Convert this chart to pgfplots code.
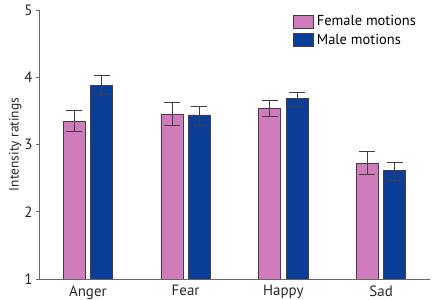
\documentclass[border=0pt]{standalone}
\usepackage{pgfplots}
\pgfplotsset{compat=1.18}
\usepackage{pgfplotstable}
\usepackage{fontspec}
\setmainfont{PT Sans}
\definecolor{fem}{RGB}{208,124,188}
\definecolor{mal}{RGB}{10,62,152}
\definecolor{edge}{RGB}{70,60,70}
\pgfplotstableread{
x y ep em
0 3.34 0.16 0.15
1 3.45 0.17 0.16
2 3.54 0.12 0.12
3 2.72 0.17 0.17
}\female
\pgfplotstableread{
x y ep em
0 3.88 0.15 0.14
1 3.44 0.12 0.15
2 3.68 0.09 0.12
3 2.62 0.12 0.16
}\male
\begin{document}
\begin{tikzpicture}[x=1bp,y=1bp]
\begin{axis}[
  at={(0,0)}, anchor=south west,
  scale only axis,
  width=391bp, height=269bp,
  xmin=-0.5, xmax=3.5,
  ymin=1, ymax=5,
  axis lines=left,
  axis line style={-, draw=black!60, line width=0.8pt},
  xtick={0,1,2,3},
  xticklabels={Anger,Fear,Happy,Sad},
  xtick style={draw=none},
  ytick={1,2,3,4,5},
  tick align=outside,
  ytick style={draw=black!60, line width=0.8pt},
  major tick length=3bp,
  tick label style={font=\fontsize{15}{17}\selectfont, text=black!85},
  /pgf/number format/assume math mode=true,
  ylabel={Intensity ratings},
  ylabel style={font=\fontsize{13.5}{15}\selectfont, text=black!85, yshift=-4bp},
  xticklabel style={yshift=0bp},
  ybar,
  bar width=0.225,
  legend style={draw=none, fill=none, at={(0.642,0.995)}, anchor=north west,
    font=\fontsize{14.5}{16}\selectfont, row sep=3bp,
    legend cell align=left,
    /tikz/every even column/.append style={column sep=2bp}},
  legend image code/.code={\draw[#1] (0bp,-6.5bp) rectangle (20bp,6.5bp);},
]
\addplot[fill=fem, draw=edge, line width=0.7pt, bar shift=-0.14,
  error bars/.cd, y dir=both, y explicit,
  error bar style={line width=0.8pt, draw=black!75},
  error mark options={rotate=90, mark size=8bp, line width=0.8pt, draw=black!75}]
  table[x=x, y=y, y error plus=ep, y error minus=em]{\female};
\addlegendentry{\hspace{1bp}Female motions}
\addplot[fill=mal, draw=edge, line width=0.7pt, bar shift=0.14,
  error bars/.cd, y dir=both, y explicit,
  error bar style={line width=0.8pt, draw=black!75},
  error mark options={rotate=90, mark size=8bp, line width=0.8pt, draw=black!75}]
  table[x=x, y=y, y error plus=ep, y error minus=em]{\male};
\addlegendentry{\hspace{1bp}Male motions}
\end{axis}
\pgfresetboundingbox
\path[use as bounding box] (-39bp,-21bp) rectangle (393bp,279bp);
\end{tikzpicture}
\end{document}
